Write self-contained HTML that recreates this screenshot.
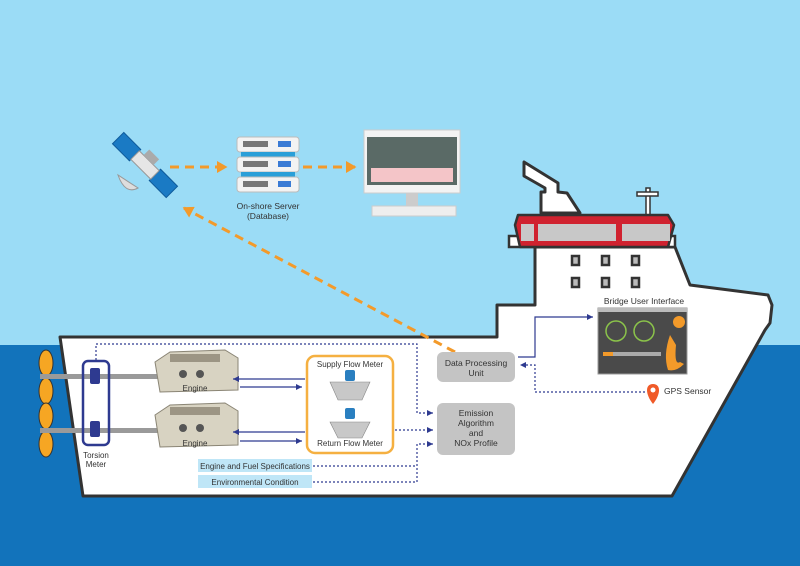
<!DOCTYPE html>
<html><head><meta charset="utf-8"><style>
html,body{margin:0;padding:0;background:#9bdcf6}
svg{display:block}
text{font-family:"Liberation Sans",sans-serif;fill:#333}
</style></head><body>
<svg width="800" height="566" viewBox="0 0 800 566" xmlns="http://www.w3.org/2000/svg">
<defs>
<marker id="ab" markerWidth="6" markerHeight="6" refX="5" refY="3" orient="auto"><path d="M0,0.5 L5,3 L0,5.5z" fill="#2e3a90"/></marker>
<marker id="ao" markerWidth="4" markerHeight="4" refX="3" refY="2" orient="auto"><path d="M0,0 L3.5,2 L0,4z" fill="#f39a2a"/></marker>
</defs>
<rect width="800" height="566" fill="#9bdcf6"/>
<rect y="345" width="800" height="221" fill="#1273bb"/>

<!-- funnel -->
<path d="M524,162 L524,176 L545,188 L545,192 L541,192 L541,213 L580,213 L567,193 L558,192 L558,183 Z" fill="#fff" stroke="#333" stroke-width="3" stroke-linejoin="round"/>
<!-- mast -->
<rect x="646" y="188" width="4" height="28" fill="#fff" stroke="#333" stroke-width="1.5"/>
<rect x="637" y="192" width="21" height="4" fill="#fff" stroke="#333" stroke-width="1.5"/>
<!-- ship body -->
<path d="M60,337 L497,337 L497,305 L535,305 L535,247 L675,247 L690,285 L768,295 L772,305 L770,323 L765,330 L672,496 L83,496 Z" fill="#fff" stroke="#333" stroke-width="3" stroke-linejoin="round"/>
<!-- bridge -->
<rect x="509" y="236" width="166" height="11" fill="#fff" stroke="#333" stroke-width="2.5"/>
<path d="M518,215 L668,215 L674,225 L668,247 L520,247 L515,225 Z" fill="#d0222f" stroke="#333" stroke-width="2.5" stroke-linejoin="round"/>
<rect x="521" y="224" width="13" height="17" fill="#c8c8c8"/>
<rect x="538" y="224" width="78" height="17" fill="#c8c8c8"/>
<rect x="622" y="224" width="48" height="17" fill="#c8c8c8"/>
<!-- windows -->
<g fill="#bbb" stroke="#333" stroke-width="2.5">
<rect x="572" y="256" width="7" height="9"/><rect x="602" y="256" width="7" height="9"/><rect x="632" y="256" width="7" height="9"/>
<rect x="572" y="278" width="7" height="9"/><rect x="602" y="278" width="7" height="9"/><rect x="632" y="278" width="7" height="9"/>
</g>

<!-- satellite -->
<g transform="translate(145,165) rotate(45)">
<rect x="-38" y="-8" width="24" height="16" fill="#1a7ac4" stroke="#0e5a9a"/>
<rect x="14" y="-8" width="24" height="16" fill="#1a7ac4" stroke="#0e5a9a"/>
<rect x="-14" y="-6" width="28" height="12" fill="#e6e6e6" stroke="#999"/>
<rect x="-8" y="-14" width="14" height="8" fill="#aaa"/>
</g>
<path d="M118,175 Q125,195 138,188 Z" fill="#ddd" stroke="#999"/>
<!-- server -->
<g>
<rect x="237" y="137" width="62" height="15" rx="3" fill="#f3f3f3" stroke="#bbb"/>
<rect x="241" y="152" width="54" height="5" fill="#2a9fd8"/>
<rect x="237" y="157" width="62" height="15" rx="3" fill="#f3f3f3" stroke="#bbb"/>
<rect x="241" y="172" width="54" height="5" fill="#2a9fd8"/>
<rect x="237" y="177" width="62" height="15" rx="3" fill="#f3f3f3" stroke="#bbb"/>
<g fill="#777"><rect x="243" y="141" width="25" height="6"/><rect x="243" y="161" width="25" height="6"/><rect x="243" y="181" width="25" height="6"/></g>
<g fill="#3a7bd5"><rect x="278" y="141" width="13" height="6"/><rect x="278" y="161" width="13" height="6"/><rect x="278" y="181" width="13" height="6"/></g>
</g>
<text x="268" y="209" font-size="8.5" text-anchor="middle">On-shore Server</text>
<text x="268" y="219" font-size="8.5" text-anchor="middle">(Database)</text>
<!-- monitor -->
<rect x="364" y="130" width="96" height="63" fill="#f3f3f3" stroke="#ccc"/>
<rect x="367" y="137" width="90" height="48" fill="#5a6a66"/>
<rect x="371" y="168" width="82" height="14" fill="#f4c5c8"/>
<rect x="406" y="193" width="12" height="13" fill="#ccc"/>
<rect x="372" y="206" width="84" height="10" fill="#eee" stroke="#ccc"/>
<!-- orange dashes -->
<g stroke="#f39a2a" stroke-width="3" stroke-dasharray="9,6" fill="none">
<line x1="170" y1="167" x2="226" y2="167" marker-end="url(#ao)"/>
<line x1="303" y1="167" x2="355" y2="167" marker-end="url(#ao)"/>
<line x1="455" y1="352" x2="184" y2="208" marker-end="url(#ao)"/>
</g>

<!-- propellers -->
<g fill="#f6a623" stroke="#333" stroke-width="1">
<ellipse cx="46" cy="363" rx="7" ry="13"/><ellipse cx="46" cy="391" rx="7" ry="13"/>
<ellipse cx="46" cy="416" rx="7" ry="13"/><ellipse cx="46" cy="444" rx="7" ry="13"/>
</g>
<rect x="40" y="374" width="120" height="5" fill="#9a9a9a"/>
<rect x="40" y="428" width="120" height="5" fill="#9a9a9a"/>
<!-- torsion meter -->
<rect x="83" y="361" width="26" height="84" rx="5" fill="none" stroke="#2e3a90" stroke-width="2.5"/>
<rect x="90" y="368" width="10" height="16" rx="2" fill="#2e3a90"/>
<rect x="90" y="421" width="10" height="16" rx="2" fill="#2e3a90"/>
<text x="96" y="458" font-size="8" text-anchor="middle">Torsion</text>
<text x="96" y="467" font-size="8" text-anchor="middle">Meter</text>
<!-- engines -->
<g>
<path d="M155,362 L170,352 L225,350 L238,358 L238,390 L160,392 Z" fill="#d8d3c2" stroke="#8a8575"/>
<rect x="170" y="354" width="50" height="8" fill="#9c9584"/>
<circle cx="183" cy="374" r="4" fill="#555"/><circle cx="200" cy="374" r="4" fill="#555"/>
<text x="195" y="391" font-size="8" text-anchor="middle">Engine</text>
<path d="M155,415 L170,405 L225,403 L238,411 L238,445 L160,447 Z" fill="#d8d3c2" stroke="#8a8575"/>
<rect x="170" y="407" width="50" height="8" fill="#9c9584"/>
<circle cx="183" cy="428" r="4" fill="#555"/><circle cx="200" cy="428" r="4" fill="#555"/>
<text x="195" y="446" font-size="8" text-anchor="middle">Engine</text>
</g>
<!-- flow meter box -->
<rect x="307" y="356" width="86" height="97" rx="8" fill="#fff" stroke="#f5b041" stroke-width="2.5"/>
<text x="350" y="367" font-size="8" text-anchor="middle">Supply Flow Meter</text>
<text x="350" y="446" font-size="8" text-anchor="middle">Return Flow Meter</text>
<g fill="#c8c8c8" stroke="#888" stroke-width="0.6">
<path d="M330,382 L370,382 L362,400 L338,400 Z"/><path d="M330,422 L370,422 L362,438 L338,438 Z"/>
</g>
<rect x="345" y="370" width="10" height="11" rx="2" fill="#2a7fc0"/>
<rect x="345" y="408" width="10" height="11" rx="2" fill="#2a7fc0"/>
<!-- blue arrows engine<->meter -->
<g stroke="#2e3a90" stroke-width="1.2" fill="none">
<line x1="305" y1="379" x2="233" y2="379" marker-end="url(#ab)"/>
<line x1="240" y1="387" x2="302" y2="387" marker-end="url(#ab)"/>
<line x1="305" y1="432" x2="233" y2="432" marker-end="url(#ab)"/>
<line x1="240" y1="441" x2="302" y2="441" marker-end="url(#ab)"/>
</g>
<!-- dotted lines -->
<g stroke="#2e3a90" stroke-width="1.2" stroke-dasharray="2,2" fill="none">
<polyline points="96,360 96,344 417,344 417,413 433,413" marker-end="url(#ab)"/>
<line x1="395" y1="430" x2="433" y2="430" marker-end="url(#ab)"/>
<polyline points="313,466 417,466 417,444 433,444" marker-end="url(#ab)"/>
<polyline points="313,482 417,482 417,466"/>
<polyline points="645,392 535,392 535,365 520,365" marker-end="url(#ab)"/>
</g>
<polyline points="518,357 535,357 535,317 593,317" stroke="#2e3a90" stroke-width="1.2" fill="none" marker-end="url(#ab)"/>
<!-- spec boxes -->
<rect x="198" y="459" width="114" height="13" fill="#bfe6f7"/>
<text x="255" y="469" font-size="8" text-anchor="middle">Engine and Fuel Specifications</text>
<rect x="198" y="475" width="114" height="13" fill="#bfe6f7"/>
<text x="255" y="485" font-size="8" text-anchor="middle">Environmental Condition</text>
<!-- DPU -->
<rect x="437" y="352" width="78" height="30" rx="6" fill="#c4c4c4"/>
<text x="476" y="366" font-size="8.5" text-anchor="middle">Data Processing</text>
<text x="476" y="376" font-size="8.5" text-anchor="middle">Unit</text>
<!-- Emission -->
<rect x="437" y="403" width="78" height="52" rx="6" fill="#c4c4c4"/>
<text x="476" y="416" font-size="8.5" text-anchor="middle">Emission</text>
<text x="476" y="426" font-size="8.5" text-anchor="middle">Algorithm</text>
<text x="476" y="436" font-size="8.5" text-anchor="middle">and</text>
<text x="476" y="446" font-size="8.5" text-anchor="middle">NOx Profile</text>
<!-- bridge UI -->
<text x="644" y="304" font-size="8.5" text-anchor="middle">Bridge User Interface</text>
<rect x="598" y="308" width="89" height="66" fill="#4a4a4a" stroke="#999"/>
<rect x="598" y="308" width="89" height="4" fill="#bbb"/>
<circle cx="616" cy="331" r="10" fill="none" stroke="#8bc34a" stroke-width="1.5"/>
<circle cx="644" cy="331" r="10" fill="none" stroke="#8bc34a" stroke-width="1.5"/>
<rect x="603" y="352" width="58" height="4" fill="#aaa"/>
<rect x="603" y="352" width="10" height="4" fill="#f39a2a"/>
<path d="M670,335 Q663,355 668,370 Q676,372 684,364 L680,362 Q674,366 676,345 Z" fill="#f39a2a"/>
<circle cx="679" cy="322" r="6" fill="#f39a2a"/>
<!-- GPS -->
<path d="M653,404 C645,394 645,384 653,384 C661,384 661,394 653,404 Z" fill="#f05a28"/>
<circle cx="653" cy="390" r="2.5" fill="#fff"/>
<text x="664" y="394" font-size="8.5">GPS Sensor</text>
</svg>
</body></html>
